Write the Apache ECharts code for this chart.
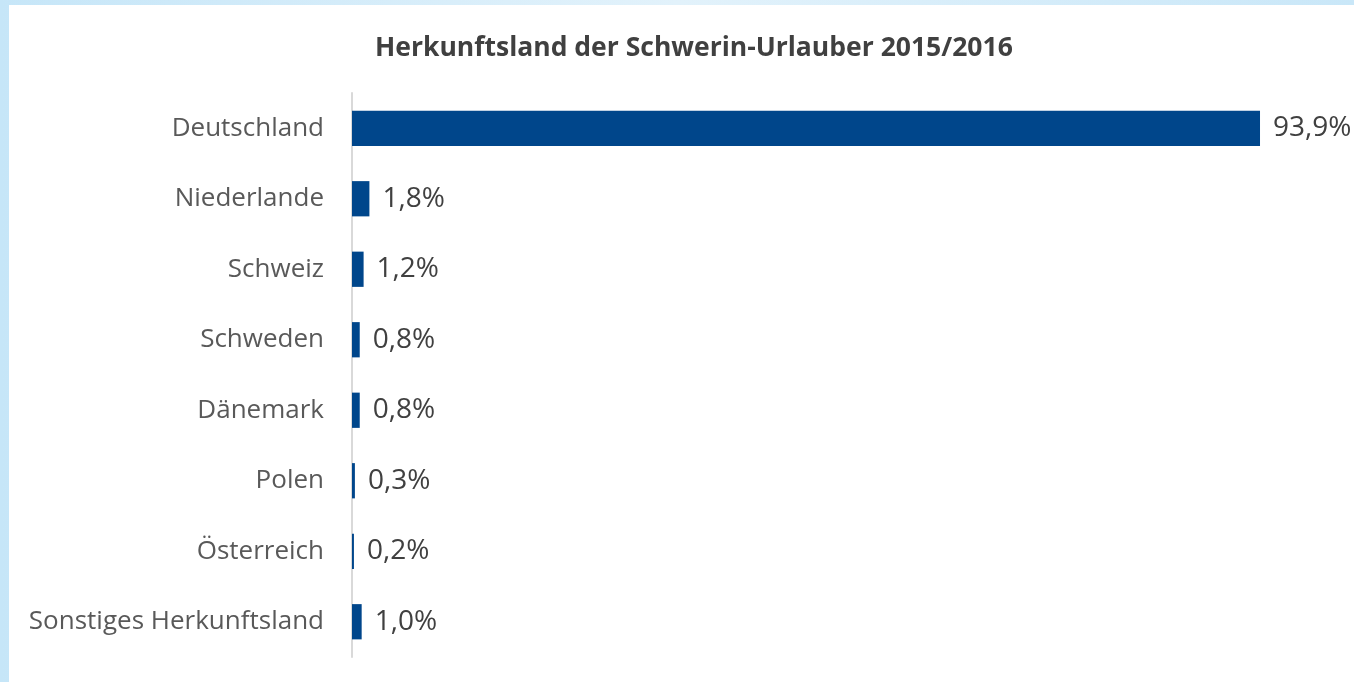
<!DOCTYPE html>
<html>
<head>
<meta charset="utf-8">
<script src="https://cdn.jsdelivr.net/npm/echarts@6/dist/echarts.min.js"></script>
<style>
    html, body { margin: 0; padding: 0; width: 1354px; height: 682px; overflow: hidden; }
    body { background: linear-gradient(90deg, #c6e6f8, #e2f2fb 50%, #c9e7f8); }
    #chart { position: absolute; left: 9px; top: 5px; width: 1345px; height: 677px; background: #ffffff; }
</style>
</head>
<body>
<div id="chart"></div>
<script>
var categories = ['Deutschland', 'Niederlande', 'Schweiz', 'Schweden', 'Dänemark', 'Polen', 'Österreich', 'Sonstiges Herkunftsland'];
var values = [93.9, 1.8, 1.2, 0.8, 0.8, 0.3, 0.2, 1.0];
var chartTitle = 'Herkunftsland der Schwerin-Urlauber 2015/2016';

function ShowEChartBarRevert(div_name, yData, data, title) {
    var myChart = echarts.init(document.getElementById(div_name));
    myChart.setOption({
        animation: false,
        textStyle: { fontFamily: 'Open Sans' },
        title: {
            text: title,
            left: 361,
            top: 25,
            textStyle: { fontSize: 26.5, fontWeight: 'bold', color: '#404040', fontFamily: 'Open Sans' }
        },
        grid: {
            left: 343,
            right: 35,
            top: 88,
            bottom: 25
        },
        xAxis: [
            {
                type: 'value',
                min: 0,
                max: 100,
                show: false
            }
        ],
        yAxis: [
            {
                type: 'category',
                inverse: true,
                data: yData,
                axisLine: { show: true, lineStyle: { color: '#d9d9d9', width: 2 } },
                axisTick: { show: false },
                axisLabel: { margin: 28, fontSize: 26, color: '#595959' }
            }
        ],
        series: [
            {
                type: 'bar',
                data: data,
                barWidth: '50%',
                itemStyle: { color: '#00468b' },
                label: {
                    show: true,
                    position: 'right',
                    distance: 13,
                    fontSize: 28,
                    color: '#404040',
                    formatter: function (p) { return p.value.toFixed(1).replace('.', ',') + '%'; }
                }
            }
        ]
    });
}

ShowEChartBarRevert('chart', categories, values, chartTitle);
</script>
</body>
</html>
